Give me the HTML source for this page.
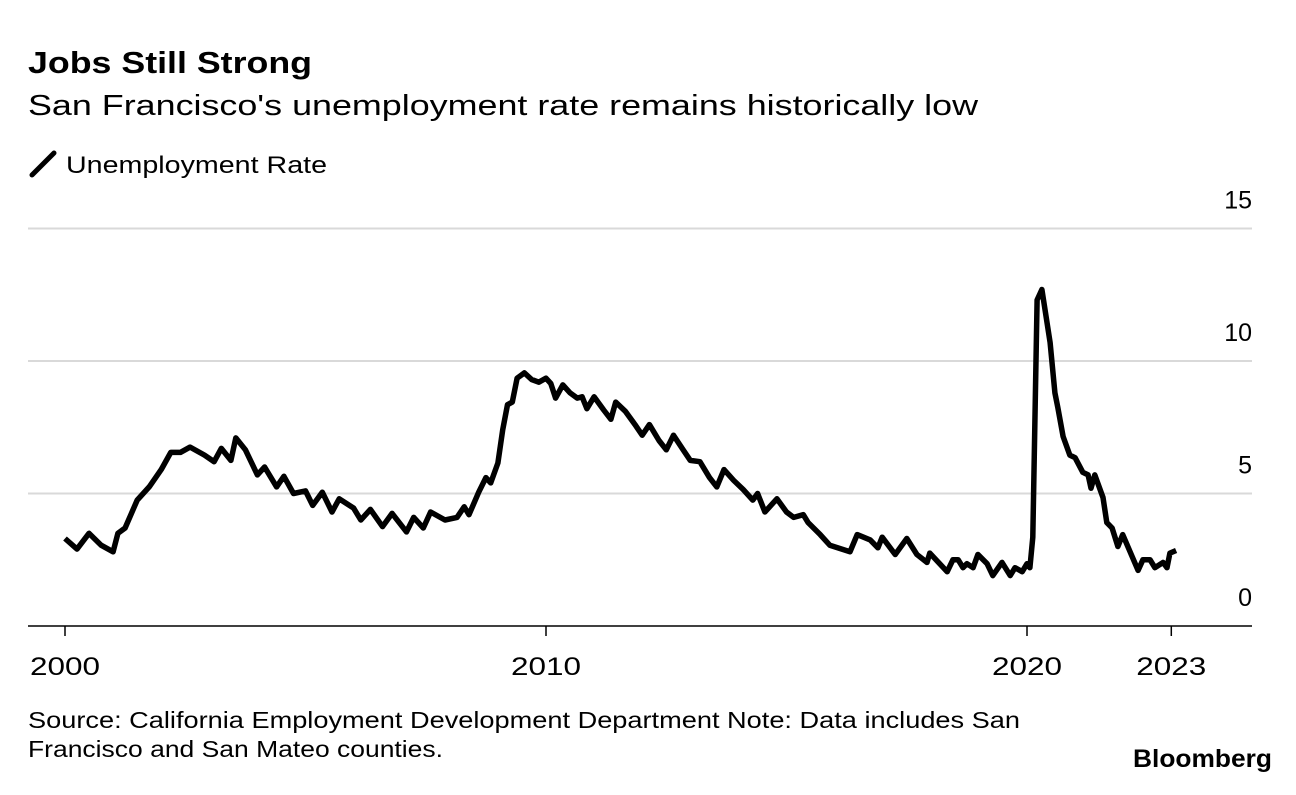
<!DOCTYPE html>
<html><head><meta charset="utf-8"><style>
body{margin:0;background:#fff;font-family:"Liberation Sans",Arial,sans-serif;color:#000;}
svg text{font-family:"Liberation Sans",Arial,sans-serif;}
</style></head><body>
<svg width="1296" height="790" xmlns="http://www.w3.org/2000/svg" id="chart">
<text x="28" y="73" font-size="31" font-weight="bold" textLength="284" lengthAdjust="spacingAndGlyphs">Jobs Still Strong</text>
<text x="28" y="115" font-size="29" textLength="950" lengthAdjust="spacingAndGlyphs">San Francisco's unemployment rate remains historically low</text>
<g>
<line x1="32" y1="175" x2="54" y2="153" stroke="#000" stroke-width="5" stroke-linecap="round"/>
<text x="66" y="173" font-size="24" textLength="261" lengthAdjust="spacingAndGlyphs">Unemployment Rate</text>
</g>
<g id="grid"></g><g id="yt"></g><g id="xt"></g>
<path id="line" fill="none" stroke="#000" stroke-width="5.5" stroke-linejoin="round"/>
<text x="28" y="728" font-size="23" textLength="992" lengthAdjust="spacingAndGlyphs">Source: California Employment Development Department Note: Data includes San</text>
<text x="28" y="757" font-size="23" textLength="415" lengthAdjust="spacingAndGlyphs">Francisco and San Mateo counties.</text>
<text x="1133" y="767" font-size="25" font-weight="bold" textLength="139" lengthAdjust="spacingAndGlyphs">Bloomberg</text>
</svg>
<script>
const years=[2000.0,2000.25,2000.5,2000.75,2001.0,2001.1,2001.25,2001.5,2001.75,2002.0,2002.2,2002.4,2002.6,2002.9,2003.1,2003.25,2003.45,2003.55,2003.75,2004.0,2004.15,2004.4,2004.55,2004.75,2005.0,2005.15,2005.35,2005.55,2005.7,2006.0,2006.15,2006.35,2006.6,2006.8,2007.1,2007.25,2007.45,2007.6,2007.9,2008.15,2008.3,2008.4,2008.6,2008.75,2008.85,2009.0,2009.1,2009.2,2009.3,2009.4,2009.55,2009.7,2009.85,2010.0,2010.1,2010.2,2010.35,2010.5,2010.65,2010.75,2010.85,2011.0,2011.2,2011.35,2011.45,2011.65,2011.85,2012.0,2012.15,2012.35,2012.5,2012.65,2012.85,2013.0,2013.2,2013.4,2013.55,2013.7,2013.9,2014.1,2014.3,2014.4,2014.55,2014.8,2015.0,2015.15,2015.35,2015.45,
2015.70,2015.90,2016.32,2016.47,2016.74,2016.90,2016.99,2017.26,2017.50,2017.71,2017.92,2017.98,2018.34,2018.46,2018.57,2018.67,2018.75,2018.88,2018.98,2019.17,2019.29,2019.48,2019.65,2019.75,2019.90,2020.0,2020.06,2020.12,2020.21,2020.31,2020.48,2020.58,2020.64,2020.75,2020.89,2021.0,2021.16,2021.27,2021.33,2021.41,2021.58,2021.66,2021.77,2021.89,2021.99,2022.31,2022.41,2022.56,2022.66,2022.83,2022.91,2022.97,2023.10];
const rates=[3.3,2.9,3.5,3.05,2.8,3.5,3.7,4.75,5.25,5.9,6.55,6.55,6.75,6.45,6.2,6.7,6.25,7.1,6.65,5.7,6.0,5.25,5.65,5.0,5.1,4.55,5.05,4.3,4.8,4.45,4.0,4.4,3.75,4.25,3.55,4.1,3.7,4.3,4.0,4.1,4.5,4.2,5.05,5.6,5.4,6.15,7.4,8.35,8.45,9.35,9.55,9.3,9.2,9.35,9.15,8.6,9.1,8.8,8.6,8.65,8.2,8.65,8.15,7.8,8.45,8.1,7.6,7.2,7.6,7.0,6.65,7.2,6.65,6.25,6.2,5.6,5.25,5.9,5.5,5.15,4.75,5.0,4.3,4.8,4.3,4.1,4.2,3.9,
3.45,3.05,2.8,3.45,3.25,2.95,3.35,2.7,3.3,2.7,2.4,2.75,2.05,2.5,2.5,2.2,2.35,2.2,2.7,2.35,1.9,2.4,1.9,2.2,2.05,2.35,2.2,3.35,12.3,12.7,10.7,8.8,8.25,7.15,6.45,6.35,5.8,5.7,5.2,5.7,4.85,3.9,3.7,3.0,3.45,2.1,2.5,2.5,2.2,2.4,2.2,2.75,2.85];
const yTicks=[0,5,10,15];
const xTicks=[2000,2010,2020,2023];
const X=v=>65+(v-2000)*48.1;
const Y=v=>626-v*26.5;
const NS="http://www.w3.org/2000/svg";
const g=document.getElementById('grid'),yt=document.getElementById('yt'),xt=document.getElementById('xt');
yTicks.forEach(t=>{
 if(t>0){const l=document.createElementNS(NS,'line');
 l.setAttribute('x1',28);l.setAttribute('x2',1252);l.setAttribute('y1',Y(t));l.setAttribute('y2',Y(t));
 l.setAttribute('stroke','#d9d9d9');l.setAttribute('stroke-width','2');
 
 
 g.appendChild(l);}
 const tx=document.createElementNS(NS,'text');
 tx.setAttribute('x',1252);tx.setAttribute('y',Y(t)-20);tx.setAttribute('text-anchor','end');tx.setAttribute('font-size','25');
 tx.textContent=t;
 
 
 yt.appendChild(tx);
});
const ax=document.createElementNS(NS,'line');
ax.setAttribute('x1',28);ax.setAttribute('x2',1252);ax.setAttribute('y1',626);ax.setAttribute('y2',626);ax.setAttribute('stroke','#000');ax.setAttribute('stroke-width','1.5');


xt.appendChild(ax);
xTicks.forEach(t=>{
 const l=document.createElementNS(NS,'line');
 l.setAttribute('x1',X(t));l.setAttribute('x2',X(t));l.setAttribute('y1',626);l.setAttribute('y2',636);l.setAttribute('stroke','#000');l.setAttribute('stroke-width','1.5');
 
 
 xt.appendChild(l);
 const tx=document.createElementNS(NS,'text');
 tx.setAttribute('x',X(t));tx.setAttribute('y',675);tx.setAttribute('text-anchor','middle');tx.setAttribute('font-size','25');
 tx.setAttribute('textLength','70');tx.setAttribute('lengthAdjust','spacingAndGlyphs');
 tx.textContent=t;
 
 
 xt.appendChild(tx);
});
document.getElementById('line').setAttribute('d',years.map((y,i)=>(i?'L':'M')+X(y).toFixed(1)+','+Y(rates[i]).toFixed(1)).join(''));
</script>
</body></html>
